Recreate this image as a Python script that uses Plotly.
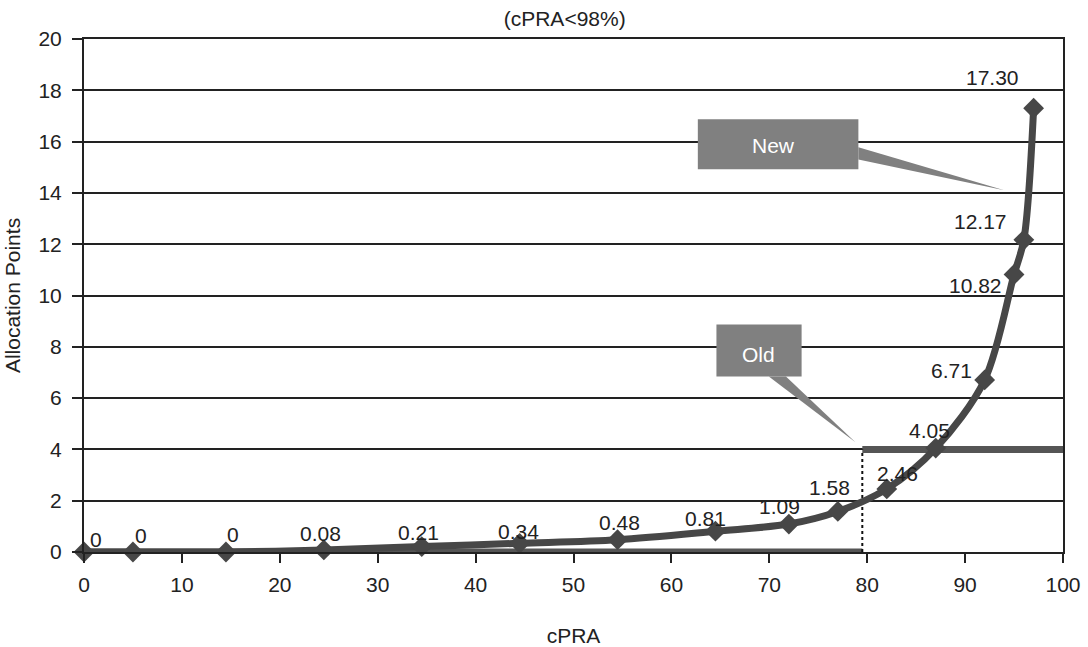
import plotly.graph_objects as go

# ---- data ----
cpra_new = [0, 5, 14.5, 24.5, 34.5, 44.5, 54.5, 64.5, 72, 77, 82, 87, 92, 95, 96, 97]
points_new = [0, 0, 0, 0.08, 0.21, 0.34, 0.48, 0.81, 1.09, 1.58, 2.46, 4.05, 6.71, 10.82, 12.17, 17.30]
labels_new = ["0", "0", "0", "0.08", "0.21", "0.34", "0.48", "0.81", "1.09", "1.58",
              "2.46", "4.05", "6.71", "10.82", "12.17", "17.30"]

cpra_old = [0, 79.5, None, 79.5, 100]
points_old = [0, 0, None, 4, 4]
old_break_x = [79.5, 79.5]
old_break_y = [0, 4]

x_ticks = [0, 10, 20, 30, 40, 50, 60, 70, 80, 90, 100]
y_ticks = [0, 2, 4, 6, 8, 10, 12, 14, 16, 18, 20]

# label offsets in pixels (style)
label_dx = [12, 8, 7, -3, -3, -1, 2, -10, -9, -8, 11, -6, -33, -39, -43, -41]
label_dy = [13, 17, 18, 16, 14, 12, 17, 13, 18, 24, 15, 18, 9, -11, 18, 31]

FONT = "Liberation Sans, Arial, sans-serif"
FS = 21
TXT = "#222222"
LINE = "#474747"

fig = go.Figure()

fig.add_trace(go.Scatter(
    x=cpra_old, y=points_old, mode="lines",
    line=dict(color="#555555", width=7), cliponaxis=False, showlegend=False,
    connectgaps=False))
fig.add_trace(go.Scatter(
    x=old_break_x, y=old_break_y, mode="lines",
    line=dict(color="#111111", width=2, dash="dot"), showlegend=False))
fig.add_trace(go.Scatter(
    x=cpra_new, y=points_new, mode="lines+markers",
    line=dict(color=LINE, width=7, shape="spline", smoothing=0.9),
    marker=dict(symbol="diamond", size=16, color=LINE),
    cliponaxis=False, showlegend=False))

annotations = []
for xv, yv, t, dx, dy in zip(cpra_new, points_new, labels_new, label_dx, label_dy):
    annotations.append(dict(x=xv, y=yv, xref="x", yref="y", text=t, showarrow=False,
                            xshift=dx, yshift=dy, font=dict(family=FONT, size=FS, color=TXT)))

# callouts
callouts = [
    dict(text="New", box=(62.7, 79.1, 14.92, 16.87),
         tri=[(79.1, 15.78), (79.1, 15.3), (94.0, 14.1)], tc=(70.4, 15.85)),
    dict(text="Old", box=(64.6, 73.3, 6.84, 8.87),
         tri=[(69.95, 6.84), (71.7, 6.84), (78.8, 4.28)], tc=(68.9, 7.7)),
]
shapes = []
for c in callouts:
    x0, x1, y0, y1 = c["box"]
    shapes.append(dict(type="rect", xref="x", yref="y", x0=x0, x1=x1, y0=y0, y1=y1,
                       fillcolor="#808080", line=dict(width=0), layer="above"))
    p = c["tri"]
    path = "M {} {} L {} {} L {} {} Z".format(p[0][0], p[0][1], p[1][0], p[1][1], p[2][0], p[2][1])
    shapes.append(dict(type="path", xref="x", yref="y", path=path,
                       fillcolor="#808080", line=dict(width=0), layer="above"))
    annotations.append(dict(x=c["tc"][0], y=c["tc"][1], xref="x", yref="y", text=c["text"],
                            showarrow=False, font=dict(family=FONT, size=FS, color="white")))

fig.update_layout(
    width=1088, height=647,
    margin=dict(l=84, r=25, t=39, b=95),
    paper_bgcolor="white", plot_bgcolor="white",
    font=dict(family=FONT, size=FS, color=TXT),
    title=dict(text="(cPRA<98%)", x=0.491, xref="paper", xanchor="center",
               y=1 - 19 / 647, yref="container", yanchor="middle",
               font=dict(family=FONT, size=FS, color=TXT)),
    xaxis=dict(range=[0, 100], tickvals=x_ticks, ticks="outside", ticklen=9, tickwidth=2,
               tickcolor=TXT, showgrid=False, zeroline=False, showline=True, linecolor=TXT,
               linewidth=2, mirror=True, ticklabelstandoff=4, automargin=False,
               title=dict(text="cPRA", standoff=38, font=dict(family=FONT, size=FS, color=TXT)),
               tickfont=dict(family=FONT, size=FS, color=TXT)),
    yaxis=dict(range=[0, 20], tickvals=y_ticks, ticks="outside", ticklen=10, tickwidth=2,
               tickcolor=TXT, showgrid=True, gridcolor=TXT, gridwidth=2, zeroline=False,
               showline=True, linecolor=TXT, linewidth=2, mirror=True, ticklabelstandoff=6,
               automargin=False,
               title=dict(text="Allocation Points", standoff=12,
                          font=dict(family=FONT, size=FS, color=TXT)),
               tickfont=dict(family=FONT, size=FS, color=TXT)),
    shapes=shapes,
    annotations=annotations,
)

fig.write_html("out.html")
